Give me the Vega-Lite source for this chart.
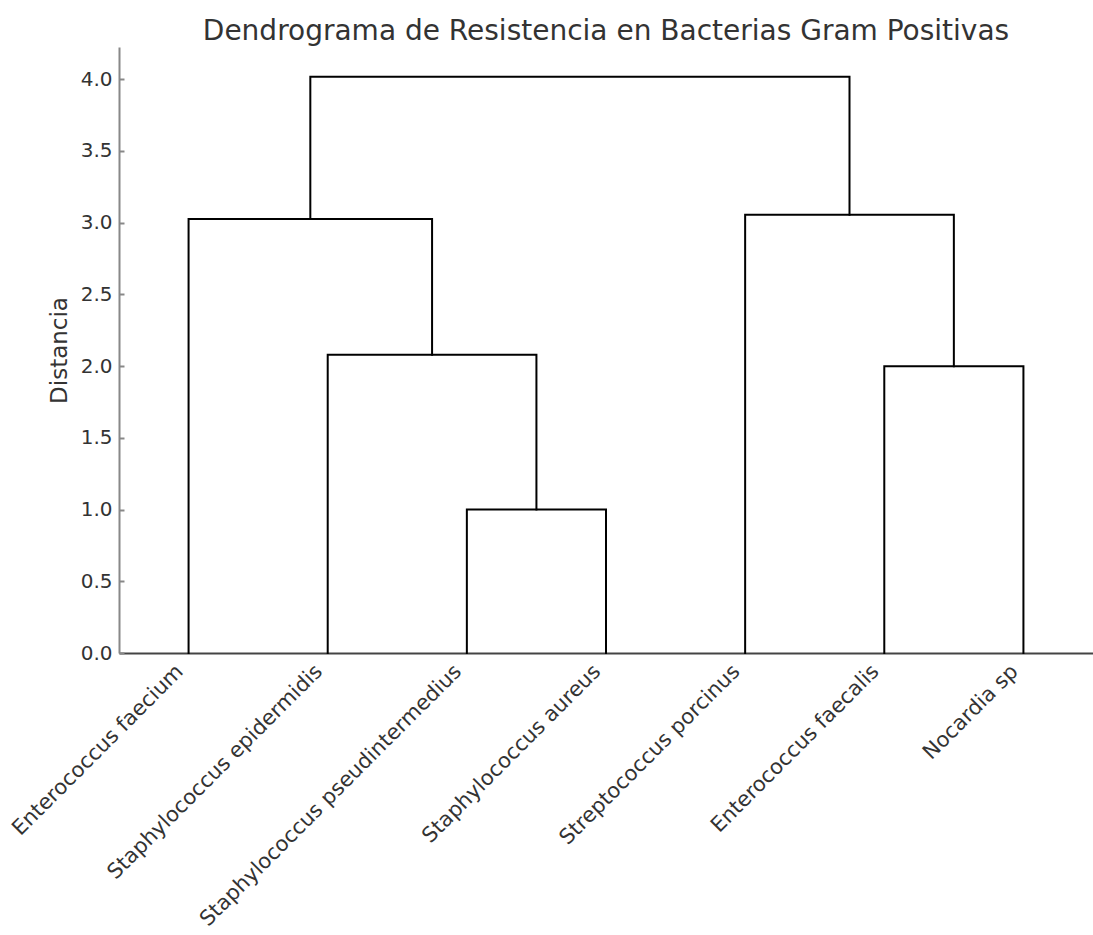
{
  "$schema": "https://vega.github.io/schema/vega-lite/v6.json",
  "autosize": "none",
  "width": 974,
  "height": 606,
  "padding": {"left": 119, "top": 47, "right": 0, "bottom": 282},
  "background": "white",
  "config": {
    "view": {"stroke": null},
    "font": "DejaVu Sans",
    "axis": {"grid": false, "labelFont": "DejaVu Sans", "titleFont": "DejaVu Sans", "labelColor": "#333", "titleColor": "#333", "titleFontWeight": "normal"}
  },
  "title": {
    "text": "Dendrograma de Resistencia en Bacterias Gram Positivas",
    "fontSize": 28,
    "fontWeight": "normal",
    "color": "#333",
    "font": "DejaVu Sans",
    "anchor": "middle",
    "offset": 1
  },
  "data": {
    "values": [
      {"link": "A", "i": 0, "x": 25, "y": 0},
      {"link": "A", "i": 1, "x": 25, "y": 1.0},
      {"link": "A", "i": 2, "x": 35, "y": 1.0},
      {"link": "A", "i": 3, "x": 35, "y": 0},
      {"link": "B", "i": 0, "x": 15, "y": 0},
      {"link": "B", "i": 1, "x": 15, "y": 2.08},
      {"link": "B", "i": 2, "x": 30, "y": 2.08},
      {"link": "B", "i": 3, "x": 30, "y": 1.0},
      {"link": "C", "i": 0, "x": 5, "y": 0},
      {"link": "C", "i": 1, "x": 5, "y": 3.025},
      {"link": "C", "i": 2, "x": 22.5, "y": 3.025},
      {"link": "C", "i": 3, "x": 22.5, "y": 2.08},
      {"link": "D", "i": 0, "x": 55, "y": 0},
      {"link": "D", "i": 1, "x": 55, "y": 2.0},
      {"link": "D", "i": 2, "x": 65, "y": 2.0},
      {"link": "D", "i": 3, "x": 65, "y": 0},
      {"link": "E", "i": 0, "x": 45, "y": 0},
      {"link": "E", "i": 1, "x": 45, "y": 3.055},
      {"link": "E", "i": 2, "x": 60, "y": 3.055},
      {"link": "E", "i": 3, "x": 60, "y": 2.0},
      {"link": "F", "i": 0, "x": 13.75, "y": 3.025},
      {"link": "F", "i": 1, "x": 13.75, "y": 4.018},
      {"link": "F", "i": 2, "x": 52.5, "y": 4.018},
      {"link": "F", "i": 3, "x": 52.5, "y": 3.055}
    ]
  },
  "mark": {"type": "line", "color": "black", "strokeWidth": 2, "interpolate": "linear", "strokeCap": "square"},
  "encoding": {
    "x": {
      "field": "x",
      "type": "quantitative",
      "scale": {"domain": [0, 70], "nice": false, "zero": false},
      "axis": {
        "title": null,
        "values": [5, 15, 25, 35, 45, 55, 65],
        "labelExpr": "['Enterococcus faecium','Staphylococcus epidermidis','Staphylococcus pseudintermedius','Staphylococcus aureus','Streptococcus porcinus','Enterococcus faecalis','Nocardia sp'][(datum.value - 5) / 10]",
        "labelAngle": -45,
        "labelAlign": "right",
        "labelBaseline": "middle",
        "labelFontSize": 21,
        "labelOffset": -9,
        "labelPadding": 15,
        "labelLimit": 0,
        "ticks": false,
        "labelOverlap": false,
        "labelBound": false,
        "labelFlush": false,
        "domainColor": "#444",
        "domainWidth": 2
      }
    },
    "y": {
      "field": "y",
      "type": "quantitative",
      "scale": {"domain": [0, 4.225], "nice": false, "zero": true},
      "axis": {
        "title": "Distancia",
        "titleFontSize": 23,
        "titlePadding": 9,
        "values": [0, 0.5, 1, 1.5, 2, 2.5, 3, 3.5, 4],
        "format": ".1f",
        "labelFontSize": 20,
        "labelPadding": 12,
        "tickSize": -5,
        "tickColor": "#888",
        "tickWidth": 2,
        "domainColor": "#888",
        "domainWidth": 2,
        "labelFlush": false
      }
    },
    "detail": {"field": "link"},
    "order": {"field": "i", "type": "quantitative"}
  }
}
